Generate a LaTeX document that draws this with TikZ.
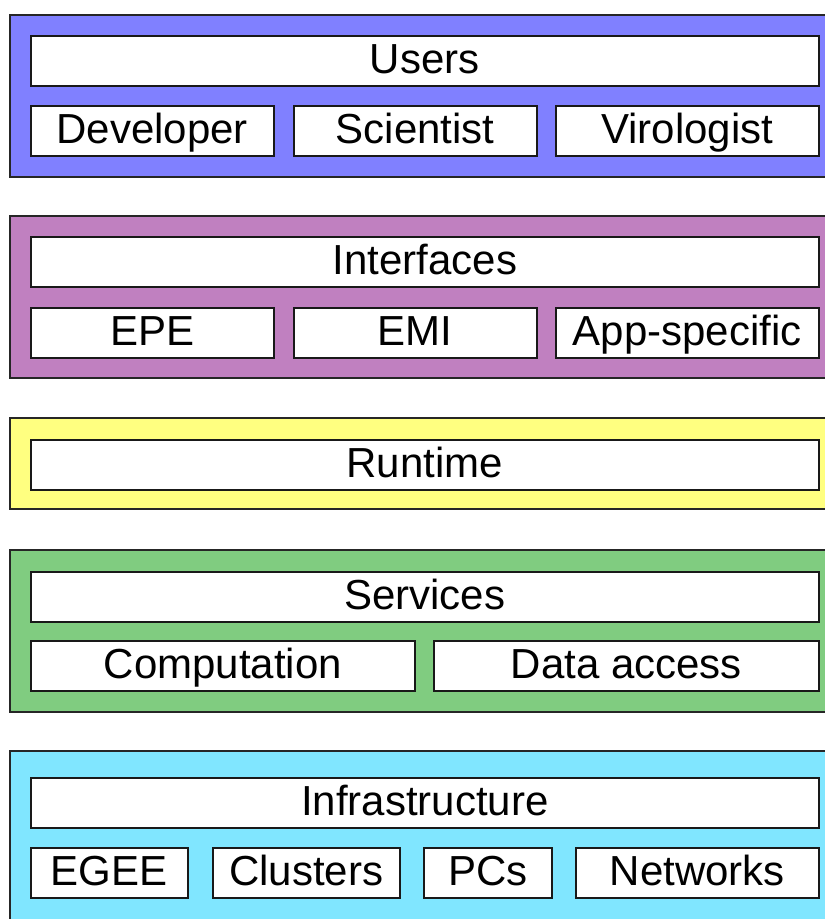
\documentclass[tikz,border=0pt]{standalone}
\usepackage{fontspec}
\setmainfont{Liberation Sans}
\definecolor{usersblue}{HTML}{8080FF}
\definecolor{ifacepurple}{HTML}{C080C0}
\definecolor{runyellow}{HTML}{FFFF80}
\definecolor{servgreen}{HTML}{80CC80}
\definecolor{infracyan}{HTML}{80E6FF}
\tikzset{
layer/.style={draw=black!85,line width=1.6pt},
cell/.style={draw=black!90,fill=white,line width=1.6pt,inner sep=0pt,anchor=north west,
  minimum height=50pt,text height=31pt,text depth=6pt,font=\fontsize{42}{42}\selectfont}
}
\begin{document}
\begin{tikzpicture}[x=1pt,y=-1pt,line join=miter]
\clip (0,0) rectangle (825,919);
\useasboundingbox (0,0) rectangle (825,919);
\fill[white] (0,0) rectangle (825,919);
% layers
\foreach \c/\t/\b in {usersblue/15/177,ifacepurple/216/378,runyellow/418/509,servgreen/550/712,infracyan/751/930}
\draw[layer,fill=\c] (10,\t) rectangle (835,\b);
% title boxes
\foreach \n/\y/\t in {users/35/Users,iface/236/Interfaces,runtime/439/Runtime,serv/571/Services,infra/777/Infrastructure}
\node[cell,minimum width=788pt] (\n) at (30,\y) {\t};
% boxes in the rows
\foreach \n/\x/\y/\w/\t in {dev/30/105/243/Developer,sci/293/105/243/Scientist,viro/555/105/263/Virologist,
  epe/30/307/243/EPE,emi/293/307/243/EMI,app/555/307/263/App-specific,
  comp/30/640/384/Computation,data/433/640/385/Data access,
  egee/30/847/157/EGEE,clus/212/847/187/Clusters,pcs/423/847/128/PCs,net/575/847/243/Networks}
\node[cell,minimum width=\w pt] (\n) at (\x,\y) {\t};
\end{tikzpicture}
\end{document}
